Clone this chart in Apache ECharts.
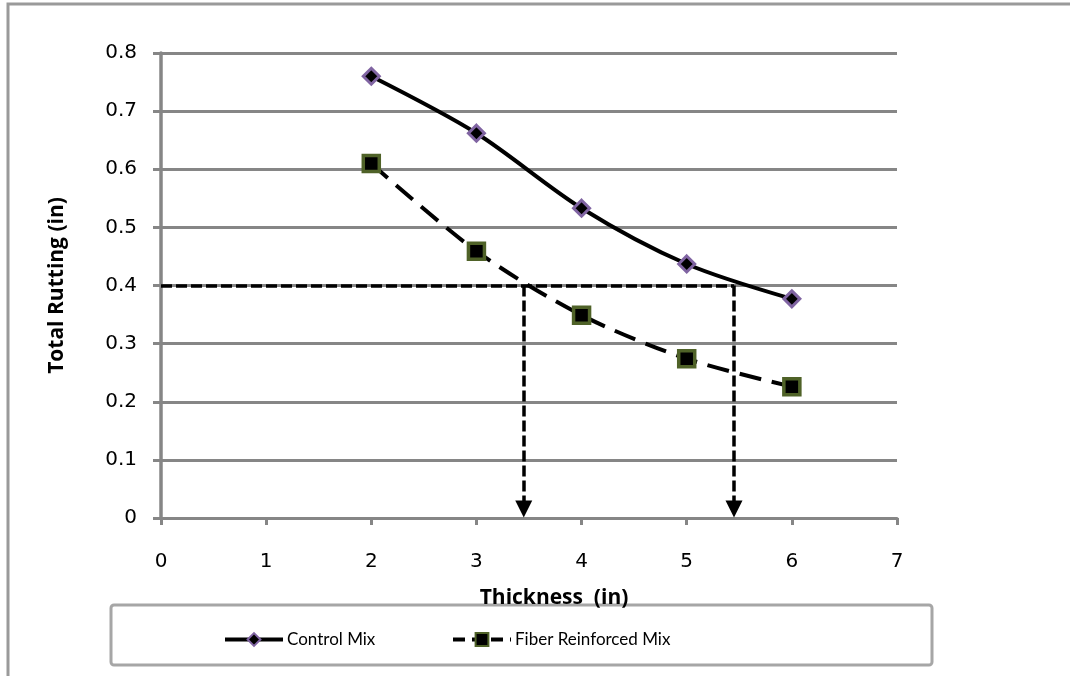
<!DOCTYPE html>
<html>
<head>
<meta charset="utf-8">
<script src="https://cdn.jsdelivr.net/npm/echarts@6/dist/echarts.min.js"></script>
<style>
html,body{margin:0;padding:0;background:#fff;}
#chart{width:1070px;height:676px;}
</style>
</head>
<body>
<div id="chart"></div>
<script>
const thickness = [2, 3, 4, 5, 6];
const controlMix = [0.76, 0.662, 0.533, 0.437, 0.377];
const fiberMix = [0.61, 0.459, 0.349, 0.274, 0.226];
const guideRutting = 0.4;
const guideThickness = [3.45, 5.45];
const seriesNames = ['Control Mix', 'Fiber Reinforced Mix'];
const xTitle = 'Thickness  (in)';
const yTitle = 'Total Rutting (in)';

const chart = echarts.init(document.getElementById('chart'));
const tickFont = 'DejaVu Sans';
const titleFont = 'Open Sans';
const legendFont = 'Lato';

const pair = (xs, ys) => xs.map((x, i) => [x, ys[i]]);
const guideStyle = {color: '#000', width: 3.5, type: [11, 4]};

const guideData = [
  [{coord: [0, guideRutting]}, {coord: [guideThickness[1], guideRutting]}]
].concat(guideThickness.map(t => [
  {coord: [t, guideRutting]},
  {coord: [t, 0.012]}
]));

chart.setOption({
  animation: false,
  backgroundColor: '#fff',
  grid: {left: 161, right: 173, top: 53, bottom: 158, containLabel: false},
  xAxis: {
    type: 'value', min: 0, max: 7, interval: 1,
    name: xTitle, nameLocation: 'middle', nameGap: 70,
    nameTextStyle: {fontFamily: titleFont, fontWeight: 'bold', fontSize: 21, color: '#000', padding: [0, 0, 0, 50]},
    axisLine: {show: true, onZero: false, lineStyle: {color: '#868686', width: 3}},
    axisTick: {show: true, length: 7, lineStyle: {color: '#868686', width: 3}},
    axisLabel: {fontFamily: tickFont, fontSize: 20, color: '#000', margin: 34},
    splitLine: {show: false}
  },
  yAxis: {
    type: 'value', min: 0, max: 0.8, interval: 0.1,
    name: yTitle, nameLocation: 'middle', nameGap: 93, nameRotate: 90,
    nameTextStyle: {fontFamily: titleFont, fontWeight: 'bold', fontSize: 21, color: '#000'},
    axisLine: {show: true, lineStyle: {color: '#868686', width: 3.5}},
    axisTick: {show: true, length: 8, lineStyle: {color: '#868686', width: 3}},
    axisLabel: {fontFamily: tickFont, fontSize: 20, color: '#000', margin: 24,
      formatter: v => (Math.round(v * 10) / 10).toString()},
    splitLine: {show: true, lineStyle: {color: '#868686', width: 3}}
  },
  legend: [
    {data: [seriesNames[0]], left: 218, top: 626, itemWidth: 58, itemHeight: 16, itemGap: 0,
     lineStyle: {width: 4, type: 'solid'},
     textStyle: {fontFamily: legendFont, fontSize: 17, color: '#000', padding: [0, 0, 0, -1]}},
    {data: [seriesNames[1]], left: 446, top: 626, itemWidth: 58, itemHeight: 16, itemGap: 0,
     lineStyle: {width: 4, type: [12, 7]},
     textStyle: {fontFamily: legendFont, fontSize: 17, color: '#000', padding: [0, 0, 0, -1]}}
  ],
  graphic: [
    {type: 'rect', z: -10, silent: true, shape: {x: 8, y: 4, width: 1100, height: 700},
     style: {fill: 'none', stroke: '#9a9a9a', lineWidth: 3}},
    {type: 'rect', z: -10, silent: true, shape: {x: 111, y: 605, width: 821, height: 60, r: 3},
     style: {fill: 'none', stroke: '#a6a6a6', lineWidth: 3}}
  ],
  series: [
    {
      name: seriesNames[0], type: 'line', smooth: 0.3,
      data: pair(thickness, controlMix),
      symbol: 'diamond', symbolSize: 16,
      lineStyle: {color: '#000', width: 4},
      itemStyle: {color: '#000', borderColor: '#8064a2', borderWidth: 3},
      z: 3
    },
    {
      name: seriesNames[1], type: 'line', smooth: 0.3,
      data: pair(thickness, fiberMix),
      symbol: 'rect', symbolSize: 16,
      lineStyle: {color: '#000', width: 4, type: [22, 11]},
      itemStyle: {color: '#000', borderColor: '#4f6228', borderWidth: 3.5},
      z: 3
    },
    {
      name: 'guide', type: 'line', data: [],
      markLine: {
        silent: true, symbol: ['none', 'none'],
        label: {show: false},
        lineStyle: guideStyle,
        data: guideData
      },
      z: 2
    },
    {
      name: 'arrows', type: 'scatter',
      data: guideThickness.map(t => [t, 0]),
      symbol: 'triangle', symbolSize: [17, 17], symbolRotate: 180, symbolOffset: [0, -9],
      itemStyle: {color: '#000', opacity: 1},
      silent: true, z: 4
    }
  ]
});
</script>
</body>
</html>
